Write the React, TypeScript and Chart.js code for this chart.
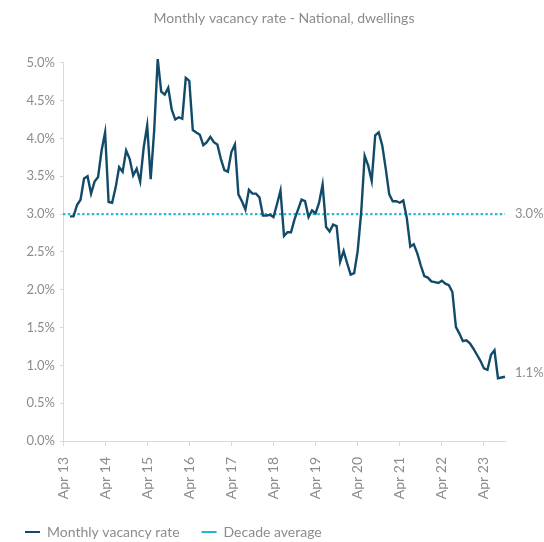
import { useEffect, useRef } from 'react';
import { Chart, registerables } from 'chart.js';

Chart.register(...registerables);

const TITLE = 'Monthly vacancy rate - National, dwellings';
const SERIES_NAME = 'Monthly vacancy rate';
const AVERAGE_NAME = 'Decade average';

const MONTH_NAMES = ['Jan', 'Feb', 'Mar', 'Apr', 'May', 'Jun', 'Jul', 'Aug', 'Sep', 'Oct', 'Nov', 'Dec'];
const START_YEAR = 2013;
const START_MONTH = 3; // April
const MONTH_COUNT = 127; // Apr 13 .. Oct 23
const LABELED_MONTH = 'Apr';

const CATEGORIES: string[] = Array.from({ length: MONTH_COUNT }, (_, i) => {
  const m = (START_MONTH + i) % 12;
  const y = START_YEAR + Math.floor((START_MONTH + i) / 12);
  return `${MONTH_NAMES[m]} ${String(y % 100).padStart(2, '0')}`;
});

// series begins in Jun 13 (two months after the first category)
const LEADING_EMPTY = 2;
const VACANCY_RATE = [
  2.97, 2.97, 3.12, 3.19, 3.47, 3.50, 3.27, 3.43, 3.49, 3.84,
  4.08, 3.16, 3.15, 3.35, 3.62, 3.56, 3.84, 3.73, 3.51, 3.60,
  3.43, 3.88, 4.17, 3.46, 4.11, 5.05, 4.62, 4.58, 4.67, 4.38,
  4.25, 4.28, 4.26, 4.80, 4.76, 4.11, 4.08, 4.05, 3.91, 3.95,
  4.02, 3.95, 3.92, 3.73, 3.58, 3.56, 3.82, 3.92, 3.26, 3.17,
  3.06, 3.32, 3.27, 3.27, 3.22, 2.98, 2.98, 2.99, 2.96, 3.13,
  3.31, 2.71, 2.76, 2.76, 2.93, 3.06, 3.19, 3.17, 2.96, 3.05,
  3.01, 3.15, 3.39, 2.83, 2.77, 2.86, 2.84, 2.37, 2.51, 2.35,
  2.20, 2.22, 2.51, 3.02, 3.77, 3.64, 3.44, 4.04, 4.08, 3.91,
  3.60, 3.26, 3.17, 3.17, 3.15, 3.18, 2.95, 2.57, 2.60, 2.48,
  2.32, 2.18, 2.16, 2.11, 2.10, 2.09, 2.12, 2.08, 2.06, 1.97,
  1.51, 1.42, 1.32, 1.33, 1.29, 1.22, 1.14, 1.06, 0.96, 0.94,
  1.14, 1.20, 0.83, 0.84, 0.85,
];
const DECADE_AVERAGE = 3.0;
const END_LABEL = '1.1%';

const Y_MIN = 0;
const Y_MAX = 5;
const Y_STEP = 0.5;

const LINE_COLOR = '#124a69';
const AVG_COLOR = '#22b8d4';
const TEXT_COLOR = '#8c8c8c';
const AXIS_COLOR = '#d9d9d9';
const FONT = 'Lato';

const sideLabels = {
  id: 'sideLabels',
  afterDatasetsDraw(chart: any) {
    const { ctx, chartArea, scales } = chart;
    const y = scales.y;
    ctx.save();
    ctx.font = `13px ${FONT}`;
    ctx.fillStyle = TEXT_COLOR;
    ctx.textAlign = 'left';
    ctx.textBaseline = 'middle';
    ctx.fillText(`${DECADE_AVERAGE.toFixed(1)}%`, chartArea.right + 10, y.getPixelForValue(DECADE_AVERAGE));
    const last = VACANCY_RATE[VACANCY_RATE.length - 1];
    ctx.fillText(END_LABEL, chartArea.right + 10, y.getPixelForValue(last) - 4);
    ctx.restore();
  },
};

export default function App() {
  const ref = useRef<HTMLCanvasElement | null>(null);

  useEffect(() => {
    if (!ref.current) return;
    const seriesData = [...Array(LEADING_EMPTY).fill(null), ...VACANCY_RATE];
    const avgData = CATEGORIES.map(() => DECADE_AVERAGE);
    const isLabeled = (i: number) => CATEGORIES[i] && CATEGORIES[i].startsWith(LABELED_MONTH);

    const chart = new Chart(ref.current, {
      type: 'line',
      data: {
        labels: CATEGORIES,
        datasets: [
          {
            label: SERIES_NAME,
            data: seriesData,
            borderColor: LINE_COLOR,
            backgroundColor: LINE_COLOR,
            borderWidth: 2.4,
            pointRadius: 0,
            tension: 0,
            spanGaps: false,
            clip: false,
          },
          {
            label: AVERAGE_NAME,
            data: avgData,
            borderColor: AVG_COLOR,
            backgroundColor: AVG_COLOR,
            borderWidth: 2.4,
            borderDash: [2.4, 2.4],
            pointRadius: 0,
          },
        ],
      },
      plugins: [sideLabels],
      options: {
        animation: false,
        responsive: true,
        maintainAspectRatio: false,
        layout: { padding: { left: 3, right: 39, top: 0, bottom: -7 } },
        font: { family: FONT },
        scales: {
          x: {
            type: 'category',
            offset: false,
            border: { display: true, color: AXIS_COLOR, width: 1 },
            grid: {
              display: true,
              drawOnChartArea: false,
              drawTicks: true,
              tickLength: 5,
              color: (ctx: any) => (isLabeled(ctx.index) ? AXIS_COLOR : 'rgba(0,0,0,0)'),
            },
            ticks: {
              autoSkip: false,
              maxRotation: 90,
              minRotation: 90,
              padding: 11,
              color: TEXT_COLOR,
              font: { family: FONT, size: 14 },
              callback: (_v: any, i: number) => (isLabeled(i) ? CATEGORIES[i] : ''),
            },
            afterFit: (s: any) => {
              s.height = 62;
            },
          },
          y: {
            min: Y_MIN,
            max: Y_MAX,
            border: { display: true, color: AXIS_COLOR, width: 1 },
            grid: { display: true, drawOnChartArea: false, drawTicks: true, tickLength: 3, color: AXIS_COLOR },
            ticks: {
              stepSize: Y_STEP,
              padding: 5,
              color: TEXT_COLOR,
              font: { family: FONT, size: 13 },
              callback: (v: any) => `${Number(v).toFixed(1)}%`,
            },
            afterFit: (s: any) => {
              s.width = 60;
            },
          },
        },
        plugins: {
          title: {
            display: true,
            fullSize: false,
            text: TITLE,
            color: TEXT_COLOR,
            font: { family: FONT, size: 14, weight: 'normal' },
            padding: { top: 10, bottom: 36 },
          },
          legend: {
            display: true,
            position: 'bottom',
            align: 'start',
            labels: {
              color: TEXT_COLOR,
              font: { family: FONT, size: 14 },
              usePointStyle: true,
              pointStyle: 'line',
              pointStyleWidth: 15,
              padding: 22,
              generateLabels: (c: any) =>
                Chart.defaults.plugins.legend.labels
                  .generateLabels(c)
                  .map((item: any) => ({ ...item, lineDash: [], pointStyle: 'line', lineWidth: 2 })),
            },
          },
          tooltip: { enabled: false },
        },
      },
    });
    return () => chart.destroy();
  }, []);

  return (
    <div style={{ position: 'fixed', left: 0, top: 0, width: 544, height: 542 }}>
      <canvas ref={ref} />
    </div>
  );
}
